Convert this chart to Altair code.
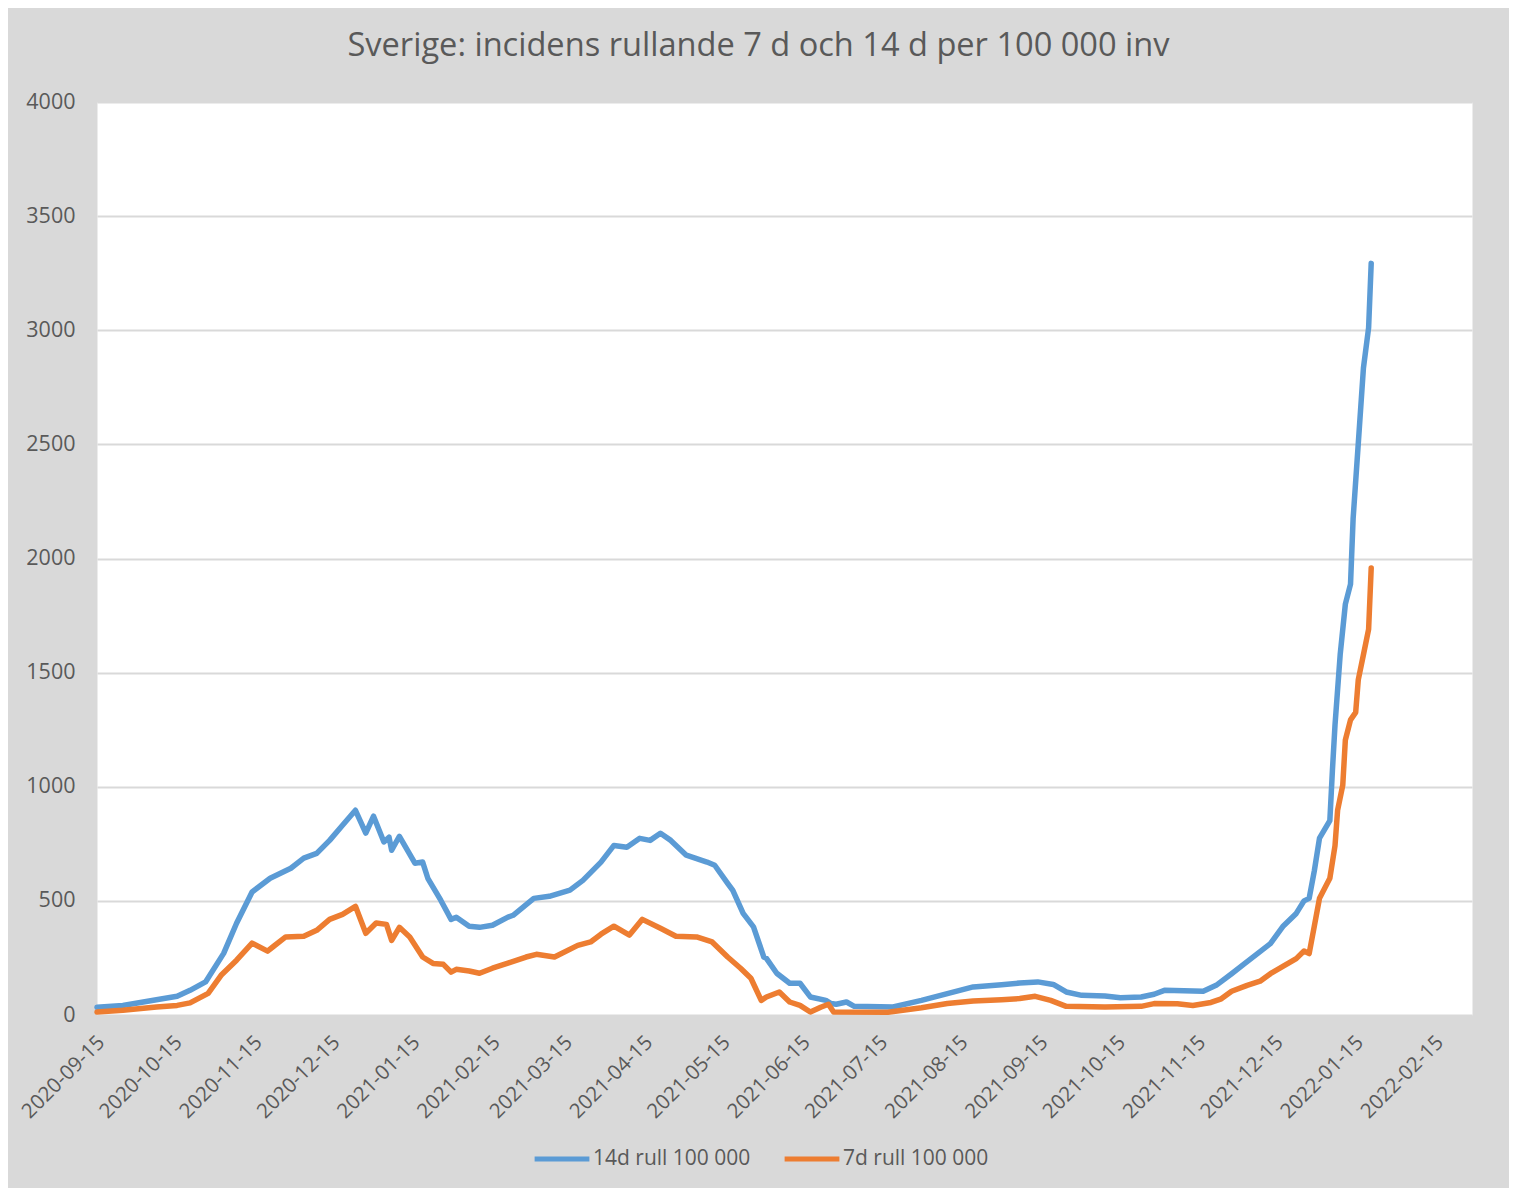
import altair as alt
import pandas as pd

TITLE = "Sverige: incidens rullande 7 d och 14 d per 100 000 inv"
SERIES = ["14d rull 100 000", "7d rull 100 000"]
COLORS = ["#5b9bd5", "#ed7d31"]

d14_dates = [
    "2020-09-15", "2020-09-25", "2020-10-08", "2020-10-16", "2020-10-21", "2020-10-27",
    "2020-11-03", "2020-11-08", "2020-11-14", "2020-11-21", "2020-11-29", "2020-12-04",
    "2020-12-09", "2020-12-14", "2020-12-19", "2020-12-24", "2020-12-28", "2020-12-31",
    "2021-01-04", "2021-01-06", "2021-01-07", "2021-01-10", "2021-01-16", "2021-01-19",
    "2021-01-21", "2021-01-26", "2021-01-30", "2021-02-01", "2021-02-06", "2021-02-10",
    "2021-02-15", "2021-02-21", "2021-02-23", "2021-03-03", "2021-03-09", "2021-03-17",
    "2021-03-22", "2021-03-29", "2021-04-03", "2021-04-08", "2021-04-13", "2021-04-17",
    "2021-04-21", "2021-04-25", "2021-05-01", "2021-05-09", "2021-05-12", "2021-05-17",
    "2021-05-19", "2021-05-23", "2021-05-27", "2021-05-31", "2021-06-01", "2021-06-05",
    "2021-06-10", "2021-06-14", "2021-06-18", "2021-06-24", "2021-06-26", "2021-06-28",
    "2021-07-02", "2021-07-05", "2021-07-20", "2021-07-31", "2021-08-10", "2021-08-20",
    "2021-08-31", "2021-09-07", "2021-09-14", "2021-09-20", "2021-09-25", "2021-10-01",
    "2021-10-10", "2021-10-16", "2021-10-24", "2021-10-29", "2021-11-02", "2021-11-17",
    "2021-11-22", "2021-11-28", "2021-12-03", "2021-12-08", "2021-12-13", "2021-12-18",
    "2021-12-23", "2021-12-26", "2021-12-28", "2021-12-30", "2022-01-01", "2022-01-05",
    "2022-01-06", "2022-01-07", "2022-01-09", "2022-01-11", "2022-01-13", "2022-01-14",
    "2022-01-16", "2022-01-18", "2022-01-20", "2022-01-21",
]
d14_values = [
    34, 42, 67, 82, 108, 145,
    270, 402, 539, 599, 643, 687,
    708, 765, 831, 897, 797, 871,
    758, 779, 722, 783, 665, 670,
    599, 503, 419, 428, 389, 384,
    393, 429, 437, 511, 520, 547,
    590, 670, 743, 735, 774, 765,
    796, 765, 700, 670, 656, 577,
    546, 445, 386, 254, 248, 183,
    139, 139, 79, 64, 50, 47,
    57, 38, 35, 64, 94, 123,
    133, 140, 145, 134, 101, 86,
    83, 76, 79, 91, 108, 104,
    130, 181, 225, 269, 313, 390,
    445, 500, 511, 632, 775, 852,
    1073, 1271, 1579, 1800, 1888, 2174,
    2504, 2835, 3011, 3293,
]

d7_dates = [
    "2020-09-15", "2020-09-25", "2020-10-08", "2020-10-16", "2020-10-21", "2020-10-28",
    "2020-11-02", "2020-11-08", "2020-11-14", "2020-11-20", "2020-11-22", "2020-11-27",
    "2020-12-04", "2020-12-09", "2020-12-14", "2020-12-19", "2020-12-24", "2020-12-28",
    "2021-01-01", "2021-01-05", "2021-01-07", "2021-01-10", "2021-01-14", "2021-01-19",
    "2021-01-23", "2021-01-27", "2021-01-30", "2021-02-01", "2021-02-06", "2021-02-10",
    "2021-02-15", "2021-02-21", "2021-02-28", "2021-03-04", "2021-03-11", "2021-03-20",
    "2021-03-25", "2021-03-29", "2021-04-03", "2021-04-09", "2021-04-14", "2021-04-21",
    "2021-04-27", "2021-05-05", "2021-05-11", "2021-05-17", "2021-05-22", "2021-05-26",
    "2021-05-30", "2021-06-01", "2021-06-06", "2021-06-10", "2021-06-14", "2021-06-18",
    "2021-06-22", "2021-06-25", "2021-06-27", "2021-07-18", "2021-07-31", "2021-08-10",
    "2021-08-20", "2021-08-31", "2021-09-07", "2021-09-13", "2021-09-19", "2021-09-25",
    "2021-10-10", "2021-10-24", "2021-10-29", "2021-11-07", "2021-11-13", "2021-11-20",
    "2021-11-24", "2021-11-28", "2021-12-04", "2021-12-09", "2021-12-13", "2021-12-18",
    "2021-12-23", "2021-12-26", "2021-12-28", "2021-12-30", "2022-01-01", "2022-01-05",
    "2022-01-07", "2022-01-08", "2022-01-10", "2022-01-11", "2022-01-13", "2022-01-15",
    "2022-01-16", "2022-01-18", "2022-01-20", "2022-01-21",
]
d7_values = [
    13, 21, 35, 42, 53, 95,
    174, 240, 315, 280, 298, 342,
    345, 371, 419, 441, 476, 358,
    403, 397, 327, 384, 342, 254,
    226, 222, 188, 200, 193, 183,
    205, 227, 254, 266, 254, 305,
    320, 354, 389, 350, 419, 380,
    345, 342, 320, 254, 205, 161,
    64, 79, 101, 57, 42, 13,
    34, 47, 13, 12, 32, 50,
    61, 67, 72, 82, 64, 38,
    35, 38, 50, 49, 42, 55,
    71, 104, 130, 148, 181, 214,
    247, 280, 269, 390, 511, 599,
    742, 897, 1007, 1205, 1293, 1326,
    1469, 1579, 1690, 1958,
]

x_tick_months = [
    (2020, 9), (2020, 10), (2020, 11), (2020, 12), (2021, 1), (2021, 2), (2021, 3),
    (2021, 4), (2021, 5), (2021, 6), (2021, 7), (2021, 8), (2021, 9), (2021, 10),
    (2021, 11), (2021, 12), (2022, 1), (2022, 2),
]
y_ticks = [0, 500, 1000, 1500, 2000, 2500, 3000, 3500, 4000]

df = pd.concat([
    pd.DataFrame({"datum": d14_dates, "varde": d14_values, "serie": SERIES[0]}),
    pd.DataFrame({"datum": d7_dates, "varde": d7_values, "serie": SERIES[1]}),
], ignore_index=True)

FONT = "Open Sans"
GREY_TXT = "#595959"

x_values = [alt.DateTime(year=y, month=m, date=15, utc=True) for (y, m) in x_tick_months]

chart = alt.Chart(df).mark_line(
    strokeWidth=5.5, strokeCap="round", strokeJoin="round"
).encode(
    x=alt.X(
        "datum:T",
        scale=alt.Scale(
            type="utc",
            domain=[alt.DateTime(year=2020, month=9, date=15, utc=True),
                    alt.DateTime(year=2022, month=3, date=1, utc=True)],
        ),
        axis=alt.Axis(
            title=None, values=x_values,
            labelExpr="utcFormat(datum.value, '%Y-%m-%d')",
            labelAngle=-45, labelAlign="right", labelBaseline="middle",
            labelPadding=24, labelOffset=4, labelFlush=False, labelOverlap=False,
            labelBound=False, grid=False, domain=False, ticks=False,
            labelFont=FONT, labelFontSize=20.5, labelColor=GREY_TXT,
        ),
    ),
    y=alt.Y(
        "varde:Q",
        scale=alt.Scale(domain=[0, 4000], nice=False),
        axis=alt.Axis(
            title=None, values=y_ticks, format="d",
            labelPadding=22, domain=False, ticks=False,
            gridColor="#d9d9d9", gridWidth=2,
            labelFont=FONT, labelFontSize=21.5, labelColor=GREY_TXT,
        ),
    ),
    color=alt.Color(
        "serie:N",
        scale=alt.Scale(domain=SERIES, range=COLORS),
        legend=alt.Legend(
            title=None, orient="none", legendX=435, legendY=1027,
            direction="horizontal", symbolType="stroke", symbolSize=3000,
            symbolStrokeWidth=5, labelFont=FONT, labelFontSize=21,
            labelColor=GREY_TXT, columnPadding=23, labelOffset=1,
        ),
    ),
).properties(
    width=1375,
    height=913,
    title=alt.TitleParams(
        TITLE, font=FONT, fontSize=32.6, fontWeight="normal", color=GREY_TXT,
        anchor="middle", frame="group", dx=-26, offset=28,
    ),
    background="#d9d9d9",
    autosize=alt.AutoSizeParams(type="none"),
    padding={"left": 89, "top": 94, "right": 37, "bottom": 173},
).configure_view(
    fill="white", stroke="transparent"
)

chart.save("out.html", embed_options={"renderer": "svg", "actions": False})
